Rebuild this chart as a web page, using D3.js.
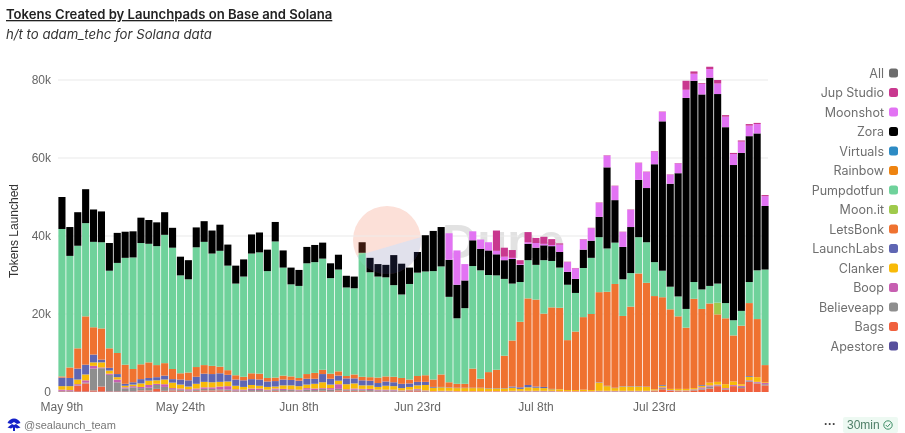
<!DOCTYPE html>
<html>
<head>
<meta charset="utf-8">
<script src="https://cdn.jsdelivr.net/npm/d3@7/dist/d3.min.js"></script>
<style>
  html, body { margin: 0; padding: 0; background: #fff; }
  svg { display: block; }
  text { font-family: "Liberation Sans", Arial, sans-serif; }
  .ttl { font-family: "Inter", sans-serif; }
</style>
</head>
<body>
<svg id="chart" width="905" height="433"></svg>
<script>
// all values in thousands of tokens, one per day from May 9th
const apestore = [.1,.1,.1,.1,.1,.1,.1,.1,.1,.1, .1,.1,.1,.1,.1,.1,.1,.1,.1,.1, .1,.1,.1,.1,.1,.1,.1,.1,.1,.1, .1,.1,.1,.1,.1,.1,.1,.1,.1,.1, .1,.1,.1,.1,.1,.1,.1]
const bags = [.1,.1,1.5,2.1,.3,1.3,.1,.1,.1,.1, .3,.3,.7,.2,.3,.2,.1,.2,.3,.3, .3,.2,.1,.1,.1,.1,.1,.2,.1,.1, .1,.1,.1,.2,.1,.3,.2,.2,.2,.1, .1,.1,.1,.1,.3,.3,.1,.1,.1,.1, .1,.1,.1,.1,.1,.1,.1,.1,.1,.1, .1,.1,.1,.1,.1,.1,.1,.1,.1,.1, .1,.1,.1,.1,.1,.2,.7,.3,.2,.2, .4,.6,.9,1.5,.6,1.5,1.0,2.6,2.2,1.7]
const believeapp = [.1,.1,.1,.2,5.6,4.7,4.2,2.3,.7,1.0, .6,.7,1.0,1.0,.3,.3,.2,.3,.4,.4, .3,.3,.2,.2,.3,.3,.2,.3,.3,.3, .2,.4,.3,.5,.4,.4,.2,.3,.3,.3, .2,.2,.2,.1,.1,.2,.1,0,.1,.1, 0,0,0,0,0,0,0,.1,.1,.1, .1,.1,.1,0,0,0,0,0,.1,.1, .1,.1,.1,.1,.1,.1,.3,.1,.1,.1, .2,.3,.5,.2,.2,.1,.3,.2,.2,.3]
const boop = [.3,.2,.3,.6,.7,.2,.3,.7,.3,.3, .3,.7,.3,.7,.3,.3,.3,.3,.4,.4, .7,.9,.3,.2,.4,.4,.2,.3,.3,.2, .2,.4,.4,.2,.4,1.2,.2,.3,.2,.3, .2,.2,.2,.1,.1,.2,.1,.1,.1,.1, .1,.1,.1,.1,.1,.1,.1,.1,.1,.1, .1,.1,.1,.1,.1,.1,.1,.1,.1,.1, .1,.1,.1,.1,.1,.1,.2,.1,.1,.1, .1,.3,.3,.2,.2,.2,.3,.2,.2,.3]
const clanker = [.9,1.0,1.2,1.5,.9,1.3,.8,.6,.4,.4, .9,1.1,.9,1.2,1.4,1.0,.7,1.2,1.4,1.3, 1.2,1.2,.9,.7,.9,.7,.7,.5,.9,1.0, .9,.9,1.2,1.5,.9,.9,1.3,1.3,.9,.9, .7,1.0,.9,.6,.7,.9,1.4,.9,.9,.8, .8,.8,.8,.8,.7,.7,.7,.8,.5,.9, .8,.7,.4,.5,.3,.3,.4,.3,2.1,1.2, .7,1.1,1.1,1.1,1.0,.3,.4,.3,.4,.4, .3,.4,.7,.7,1.0,.9,.4,.9,1.2,.2]
const launchLabs = [2.2,2.1,2.8,2.5,2.0,.7,.7,.8,.5,.6, 1.1,.7,.8,1.0,.9,1.3,1.6,1.8,2.1,2.1, 2.2,1.7,1.6,1.7,1.5,1.6,1.4,1.4,1.5,1.4, 1.4,1.5,1.3,2.1,1.5,1.3,1.5,1.3,1.3,1.2, 1.0,1.1,1.0,1.1,.9,.9,.8,.2,.1,.1, .1,.1,.1,.1,.1,.1,.1,.3,.4,.6, .3,.3,.1,0,0,0,0,0,.1,.1, .1,.1,.1,.1,.1,0,.2,0,0,0, 0,.2,0,0,0,0,0,.2,0,0]
const letsBonk = [.3,2.7,5.2,12.4,7.0,8.0,5.0,5.4,4.9,3.4, 3.8,4.0,3.1,3.2,2.6,1.6,2.0,2.5,2.2,2.1, 1.7,1.2,1.1,.9,1.5,1.5,.9,.9,1.0,.9, .7,1.2,1.5,1.1,1.3,1.1,.6,1.0,.9,.9, 1.4,1.3,1.4,1.5,1.0,1.5,1.7,1.9,3.2,1.3, 1.0,1.0,4.9,2.3,4.1,4.7,8.3,11.8,16.8,22.2, 22.3,18.8,20.9,20.9,12.8,15.0,18.6,19.5,23.1,24.1, 26.6,18.0,20.4,28.9,26.6,23.9,22.5,20.4,18.6,15.7, 22.9,19.5,20.3,17.3,16.9,11.8,15.0,18.7,14.9,4.4]
const moonIt = [0,0,0,0,0,0,0,0,0,0, 0,0,0,0,0,0,0,0,0,0, 0,0,0,0,0,0,0,0,0,0, 0,0,0,0,0,0,0,0,0,0, 0,0,0,0,0,0,0,0,0,0, 0,0,0,0,0,0,0,0,0,0, 0,0,0,0,0,0,0,0,0,0, 0,0,0,0,0,0,0,0,0,0, 0,0,0,3.0,0,0,0,0,0,0]
const pumpdotfun = [37.8,28.6,26.3,23.9,21.9,22.1,19.9,23.1,27.4,28.6, 31.1,30.4,30.5,32.9,31.1,25.1,23.9,30.7,31.6,28.8, 29.7,26.8,23.5,25.7,30.7,31.1,27.4,34.9,27.7,23.6, 23.6,28.4,28.4,28.5,24.5,26.1,22.7,22.1,31.8,26.9, 25.9,25.4,23.5,21.4,24.5,26.5,26.6,27.8,27.7,21.9, 16.8,19.4,26.3,27.8,24.9,24.2,19.7,14.6,10.2,9.8, 8.9,13.7,11.9,10.3,14.2,9.9,12.6,14.4,14.1,11.1, 10.6,9.4,8.6,9.3,10.4,8.7,6.8,5.8,5.1,4.8, 4.3,5.0,4.5,4.9,3.9,3.9,3.8,5.4,12.5,24.5]
const rainbow = []
const virtuals = []
const zora = [8.2,7.4,8.6,8.7,8.3,7.9,7.1,7.7,6.7,6.7, 6.5,6.1,6.1,5.8,5.1,4.8,4.9,5.1,5.3,5.9, 6.7,5.4,4.6,4.4,4.9,5.1,5.5,5.0,4.4,4.3, 4.1,4.2,4.4,4.1,3.8,3.8,3.0,3.0,2.7,3.7, 3.2,3.2,7.7,7.9,4.2,5.3,9.3,10.3,10.1,9.5, 8.6,7.1,6.6,5.5,6.3,5.4,4.8,6.3,4.4,4.2, 4.4,3.8,3.8,4.0,3.3,3.6,4.7,4.4,5.2,20.8, 10.9,8.3,11.8,14.7,13.9,25.1,38.3,26.4,31.6,54.1, 51.6,50.0,53.4,48.6,45.1,39.8,40.5,37.4,35.1,16.3]
const moonshot = [0,0,0,0,0,0,0,0,0,0, 0,0,0,0,0,0,0,0,0,0, 0,0,0,0,0,0,0,0,0,0, 0,0,0,0,0,0,0,0,0,0, 0,0,0,0,0,0,0,0,0,6.8, 8.8,4.2,2.3,2.4,2.1,.9,.9,.3,.2,.4, 1.2,.4,.3,1.9,2.5,2.7,2.6,3.2,3.6,3.0, 3.6,3.8,4.4,4.3,4.1,3.3,2.4,2.3,2.5,2.1, 1.8,2.7,2.2,2.7,2.7,2.8,2.9,2.7,2.4,2.5]
const jupStudio = [0,0,0,0,0,0,0,0,0,0, 0,0,0,0,0,0,0,0,0,0, 0,0,0,0,0,0,0,0,0,0, 0,0,0,0,0,0,0,0,0,0, 0,0,0,0,0,0,0,0,0,0, 0,0,0,0,0,5.2,2.3,2.0,1.0,2.6, 1.3,1.8,1.5,.3,.1,.1,.1,.1,.1,.1, .1,.1,.1,.1,.1,.1,.1,.1,.1,2.3, .6,.2,.6,.9,.4,.3,.3,.4,.3,.3]
const all = []

const seriesNames = ["All","Jup Studio","Moonshot","Zora","Virtuals","Rainbow","Pumpdotfun","Moon.it","LetsBonk","LaunchLabs","Clanker","Boop","Believeapp","Bags","Apestore"]
const seriesColors = ["#6c6c6c","#c9388f","#e273f3","#000000","#2d8bc4","#ee8310","#6fd29b","#9fca4b","#ef7230","#5f66b3","#f8ba08","#c75fb1","#8e8e8e","#f0603d","#574f9c"]
const seriesValues = [all,jupStudio,moonshot,zora,virtuals,rainbow,pumpdotfun,moonIt,letsBonk,launchLabs,clanker,boop,believeapp,bags,apestore]

const yTicks = [0,20,40,60,80]
const dayTicks = [0,15,30,45,60,75]
const dayLabels = ["May 9th","May 24th","Jun 8th","Jun 23rd","Jul 8th","Jul 23rd"]
const days = pumpdotfun.map((d,i)=>i)

const svg = d3.select("#chart")
const x = d3.scaleBand().domain(days).range([58,769]).paddingInner(0.1).paddingOuter(0.05)
const y = d3.scaleLinear().domain([0,80]).range([392,80])
const color = d3.scaleOrdinal(seriesNames,seriesColors)

// title
svg.append("text").attr("class","ttl").attr("x",6).attr("y",19)
    .attr("font-size",13.1).attr("font-weight",600).attr("fill","#222").attr("text-decoration","underline")
    .text("Tokens Created by Launchpads on Base and Solana")
svg.append("text").attr("class","ttl").attr("x",6).attr("y",39)
    .attr("font-size",13.2).attr("font-style","italic").attr("fill","#333")
    .text("h/t to adam_tehc for Solana data")

// dune watermark behind the bars
const mark = svg.append("g")
mark.append("clipPath").attr("id","duneClip").append("circle").attr("cx",387).attr("cy",240).attr("r",34)
mark.append("circle").attr("cx",387).attr("cy",240).attr("r",34).attr("fill","#fbdcd5")
mark.append("path").attr("clip-path","url(#duneClip)")
    .attr("d","M353,257 L421,237 L421,274 L353,274 Z").attr("fill","#dfdfe9")
mark.append("text").attr("x",442).attr("y",258).attr("font-family","Inter, sans-serif")
    .attr("font-size",49).attr("font-weight",600).attr("fill","#e2e2e2")
    .text("Dune")

// grid
svg.append("g").selectAll("line").data(yTicks.slice(1)).join("line")
    .attr("x1",58).attr("x2",768)
    .attr("y1",d=>y(d)).attr("y2",d=>y(d))
    .attr("stroke","#e9e9e9")

// y axis
const yAxis = svg.append("g").attr("transform","translate(55,0)")
    .call(d3.axisLeft(y).tickValues(yTicks).tickSize(0).tickPadding(4).tickFormat(d=>d==0?"0":d+"k"))
yAxis.select(".domain").remove()
yAxis.selectAll("text").attr("font-size",12).attr("fill","#666").attr("font-family","Liberation Sans")

svg.append("text").attr("transform","translate(18,231) rotate(-90)")
    .attr("text-anchor","middle").attr("font-size",12).attr("fill","#333")
    .text("Tokens Launched")

// bars
const stackKeys = seriesNames.slice().reverse()
const rows = days.map(i=>{
    const row = {day:i}
    seriesNames.forEach((n,j)=>{ row[n] = seriesValues[j][i] || 0 })
    return row
})
const stacked = d3.stack().keys(stackKeys)(rows)

svg.append("g").selectAll("g").data(stacked).join("g")
    .attr("fill",d=>color(d.key))
    .selectAll("rect").data(d=>d).join("rect")
    .attr("x",d=>x(d.data.day))
    .attr("width",x.bandwidth())
    .attr("y",d=>y(d[1]))
    .attr("height",d=>y(d[0])-y(d[1]))

// the logo shows through the bars a little, mostly on the black ones
const tint = svg.append("g").style("mix-blend-mode","screen")
tint.append("circle").attr("cx",387).attr("cy",240).attr("r",34).attr("fill","#3c1a10")
tint.append("path").attr("clip-path","url(#duneClip)")
    .attr("d","M353,257 L421,237 L421,274 L353,274 Z").attr("fill","#0f1020")

// x axis
const xAxis = svg.append("g").attr("transform","translate(0,399)")
    .call(d3.axisBottom(x).tickValues(dayTicks).tickSize(0).tickPadding(3).tickFormat((d,i)=>dayLabels[i]))
xAxis.select(".domain").remove()
xAxis.selectAll("text").attr("font-size",12).attr("fill","#666").attr("font-family","Liberation Sans")

// legend
const legend = svg.append("g").selectAll("g").data(seriesNames).join("g")
    .attr("transform",(d,i)=>`translate(0,${73+i*19.5})`)
legend.append("text").attr("x",884).attr("y",4.5).attr("text-anchor","end")
    .attr("class","ttl").attr("font-size",12.5).attr("fill","#6f6f6f").text(d=>d)
legend.append("rect").attr("x",889).attr("y",-4.5).attr("width",9).attr("height",9).attr("rx",2.5)
    .attr("fill",d=>color(d))

// footer
const logo = svg.append("g").attr("transform","translate(14,425)").attr("fill","#1420c8")
logo.append("path").attr("d","M-6.5,-2 C-4,-8 4,-8 6.5,-2 L3,-1 L0,-3 L-3,-1 Z")
logo.append("path").attr("d","M-6.5,2.5 L-2,-1 L0,0 L2,-1 L6.5,2.5 L3,3.5 L1,2.5 L1,6 L-1,6 L-1,2.5 L-3,3.5 Z")
svg.append("text").attr("x",24).attr("y",429).attr("font-size",11).attr("fill","#777").text("@sealaunch_team")

svg.append("text").attr("x",824).attr("y",428).attr("font-size",12).attr("font-weight",700).attr("fill","#444").text("···")
svg.append("rect").attr("x",843).attr("y",417).attr("width",55).attr("height",16).attr("rx",2).attr("fill","#edf9f2")
svg.append("text").attr("x",847).attr("y",429).attr("font-size",12).attr("fill","#4f7f68").text("30min")
svg.append("circle").attr("cx",888).attr("cy",425).attr("r",4.2).attr("fill","none").attr("stroke","#3f8f68").attr("stroke-width",1)
svg.append("path").attr("d","M885.8,425 L887.5,426.8 L890.3,423.6").attr("fill","none").attr("stroke","#3f8f68").attr("stroke-width",1)
</script>
</body>
</html>
